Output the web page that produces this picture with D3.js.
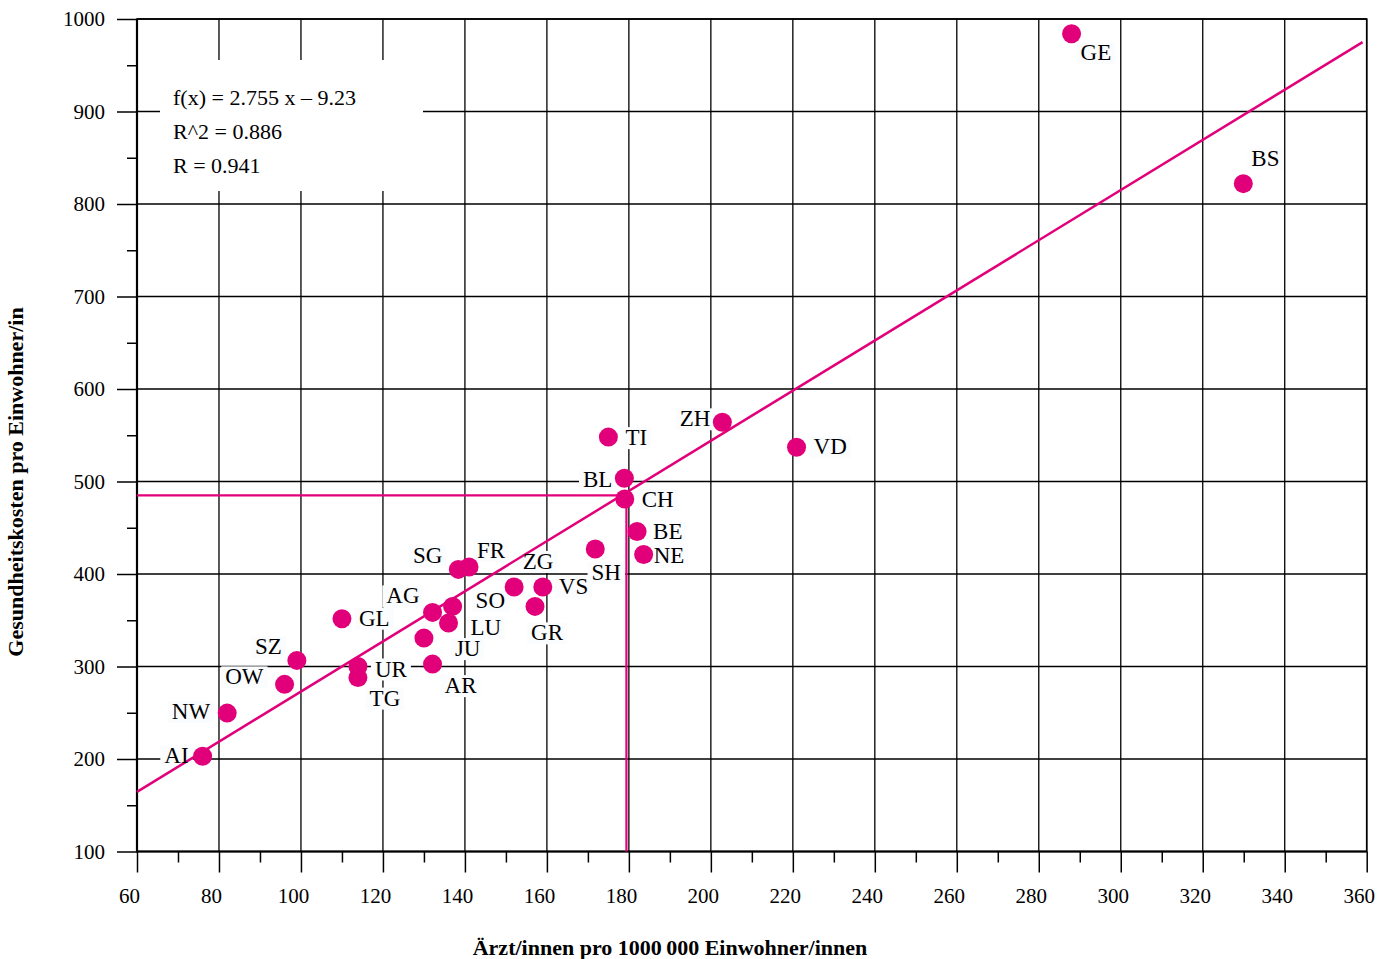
<!DOCTYPE html>
<html>
<head>
<meta charset="utf-8">
<script src="https://cdn.jsdelivr.net/npm/d3@7"></script>
<style>
    body { margin: 0; background: #fff; }
    svg { display: block; font-family: "Liberation Serif", "Times New Roman", serif; }
</style>
</head>
<body>
<svg id="chart" width="1390" height="959"></svg>
<script>
(function(d3) {

    "use strict";

    // canton codes, doctors per 100 000, health costs per inhabitant
    var cantons = ["GE", "BS", "ZH", "VD", "TI", "BL", "CH", "BE", "NE", "SH", "VS", "ZG", "GR",
        "SG", "FR", "SO", "AG", "LU", "JU", "AR", "GL", "SZ", "OW", "NW", "AI", "UR", "TG"];
    var doctors = [288, 329.9, 202.8, 220.9, 175, 178.9, 179, 182, 183.6, 171.8, 159, 152, 157.1,
        138.4, 141, 137, 132.1, 136, 130, 132.1, 110, 99, 96, 82, 76, 113.9, 113.9];
    var costs = [984, 822, 564, 537, 548, 503.5, 481, 446, 421, 427, 386, 386, 365,
        405, 407.5, 365, 358.5, 347, 330.7, 302.6, 351.7, 306.6, 280.7, 249.6, 203, 300, 288];

    // fitted line, as drawn
    var fitX = [60, 359];
    var fitY = [164.5, 975];
    // crosshair through the Swiss average
    var crossX = 179.4;
    var crossY = 485;

    var fitText = ["f(x) = 2.755 x \u2013 9.23", "R^2 = 0.886", "R = 0.941"];

    var xTicks = d3.range(60, 361, 20);
    var yTicks = d3.range(100, 1001, 100);
    var xMinor = d3.range(70, 360, 20);
    var yMinor = d3.range(150, 1000, 100);

    var pink = "#e2007a";

    // label placement: [anchor, dx, dy]
    var place = {
        GE: ["start", 9, 26], BS: ["start", 8, -18], ZH: ["end", -12, 4], VD: ["start", 17, 7],
        TI: ["start", 17, 8], BL: ["end", -12, 9], CH: ["start", 17, 8], BE: ["start", 16, 8],
        NE: ["start", 10, 8], SH: ["middle", 11, 31], VS: ["start", 16, 7], ZG: ["middle", 24, -18],
        GR: ["middle", 12, 34], SG: ["end", -16, -6], FR: ["start", 8, -9], SO: ["start", 23, 2],
        AG: ["end", -13, -9], LU: ["start", 22, 12], JU: ["start", 31, 18], AR: ["middle", 28, 29],
        GL: ["start", 17, 7], SZ: ["end", -15, -6], OW: ["end", -21, 0], NW: ["end", -17, 6],
        AI: ["end", -14, 7], UR: ["start", 17, 10], TG: ["middle", 27, 28]
    };

    var margin = { left: 137, top: 19 };
    var width = 1229.7, height = 832.5;

    var svg = d3.select("#chart");
    var g = svg.append("g").attr("transform", "translate(" + margin.left + "," + margin.top + ")");

    var x = d3.scaleLinear().domain([60, 360]).range([0, width]);
    var y = d3.scaleLinear().domain([100, 1000]).range([height, 0]);

    // grid
    g.append("g").selectAll("line").data(xTicks.slice(1)).enter().append("line")
        .attr("x1", x).attr("x2", x).attr("y1", 0).attr("y2", height)
        .attr("stroke", "#000").attr("stroke-width", 1.3);
    g.append("g").selectAll("line").data(yTicks.slice(1)).enter().append("line")
        .attr("x1", 0).attr("x2", width).attr("y1", y).attr("y2", y)
        .attr("stroke", "#000").attr("stroke-width", 1.3);

    // axes
    var xAxis = g.append("g").attr("transform", "translate(0," + height + ")")
        .call(d3.axisBottom(x).tickValues(xTicks).tickSize(21).tickPadding(16).tickFormat(d3.format("d")));
    xAxis.selectAll("text").attr("dx", -8);
    g.append("g").attr("transform", "translate(0," + height + ")")
        .call(d3.axisBottom(x).tickValues(xMinor).tickSize(11).tickFormat(""));

    g.append("g").call(d3.axisLeft(y).tickValues(yTicks).tickSize(20).tickPadding(12).tickFormat(d3.format("d")));
    g.append("g").call(d3.axisLeft(y).tickValues(yMinor).tickSize(10).tickFormat(""));

    g.selectAll(".domain").remove();
    g.selectAll(".tick line").attr("stroke", "#000").attr("stroke-width", 1.5);
    g.selectAll(".tick text").attr("font-size", 21).attr("fill", "#000")
        .attr("font-family", "Liberation Serif, serif");

    // frame
    g.append("rect").attr("x", 0).attr("y", 0).attr("width", width).attr("height", height)
        .attr("fill", "none").attr("stroke", "#000").attr("stroke-width", 1.6);
    g.append("line").attr("x1", 0).attr("x2", 0).attr("y1", 0).attr("y2", height)
        .attr("stroke", "#000").attr("stroke-width", 2.2);
    g.append("line").attr("x1", 0).attr("x2", width).attr("y1", height).attr("y2", height)
        .attr("stroke", "#000").attr("stroke-width", 2.2);

    // regression text box
    g.append("rect").attr("x", 23).attr("y", 41).attr("width", 263).attr("height", 131)
        .attr("fill", "#fff");
    g.append("g").selectAll("text").data(fitText).enter().append("text")
        .attr("x", 36).attr("y", function(d, i) { return 86 + i * 34; })
        .attr("font-size", 22).attr("fill", "#000").text(function(d) { return d; });

    var pts = cantons.map(function(c, i) { return { name: c, x: doctors[i], y: costs[i] }; });
    var labelSize = 23;

    // label backgrounds (cover the grid, sit under the pink marks)
    g.append("g").selectAll("rect").data(pts).enter().append("rect")
        .each(function(d) {
            var t = g.append("text").attr("font-size", labelSize).text(d.name);
            var w = t.node().getComputedTextLength();
            t.remove();
            var p = place[d.name];
            var x0 = x(d.x) + p[1] - (p[0] === "end" ? w : p[0] === "middle" ? w / 2 : 0);
            var base = y(d.y) + p[2];
            d3.select(this).attr("x", x0 - 4).attr("y", base - 18)
                .attr("width", w + 8).attr("height", 22);
        })
        .attr("fill", "#fbfcfe");

    // crosshair
    g.append("path")
        .attr("d", "M0," + y(crossY) + "H" + x(crossX) + "V" + height)
        .attr("fill", "none").attr("stroke", pink).attr("stroke-width", 2.2);

    // fitted line
    var line = d3.line().x(function(d) { return x(d[0]); }).y(function(d) { return y(d[1]); });
    g.append("path").datum(d3.zip(fitX, fitY)).attr("d", line)
        .attr("fill", "none").attr("stroke", pink).attr("stroke-width", 2.5);

    // points
    g.append("g").selectAll("circle").data(pts).enter().append("circle")
        .attr("cx", function(d) { return x(d.x); })
        .attr("cy", function(d) { return y(d.y); })
        .attr("r", 9.5).attr("fill", pink);

    // labels
    g.append("g").selectAll("text").data(pts).enter().append("text")
        .attr("x", function(d) { return x(d.x) + place[d.name][1]; })
        .attr("y", function(d) { return y(d.y) + place[d.name][2]; })
        .attr("text-anchor", function(d) { return place[d.name][0]; })
        .attr("font-size", labelSize).attr("fill", "#000")
        .text(function(d) { return d.name; });

    // axis titles
    svg.append("text").attr("x", 670).attr("y", 955).attr("text-anchor", "middle")
        .attr("font-size", 22).attr("font-weight", "bold")
        .text("\u00C4rzt/innen pro 1000\u2009000 Einwohner/innen");
    svg.append("text").attr("transform", "translate(23,482) rotate(-90)")
        .attr("text-anchor", "middle").attr("font-size", 22).attr("font-weight", "bold")
        .text("Gesundheitskosten pro Einwohner/in");

})(d3);
</script>
</body>
</html>
